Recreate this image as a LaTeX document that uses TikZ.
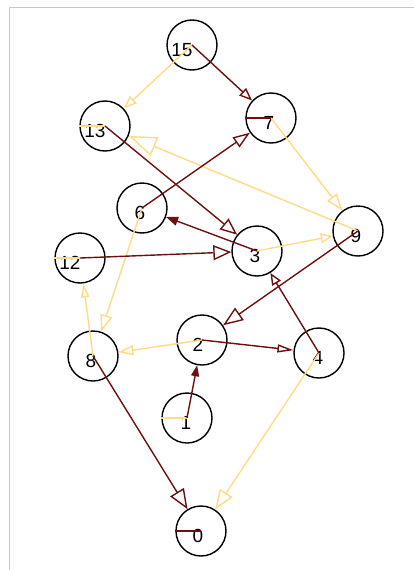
\documentclass[tikz,border=0pt]{standalone}
\usepackage{fontspec}
\setmainfont{Liberation Sans}
\usetikzlibrary{arrows.meta}
\definecolor{darkedge}{RGB}{108,16,16}
\definecolor{lightedge}{RGB}{255,218,135}
\definecolor{framegray}{RGB}{200,200,200}
\tikzset{
  vtx/.style={circle,draw=black,line width=1.4pt,minimum size=50pt,inner sep=0pt},
  lbl/.style={font=\fontsize{19}{19}\selectfont,yshift=-5pt},
  dk/.style={darkedge,line width=1.4pt},
  lt/.style={lightedge,line width=1.4pt},
  hd/.style 2 args={-{Triangle[open,length=#1pt,width=#2pt]}},
  fhd/.style 2 args={-{Triangle[length=#1pt,width=#2pt]}}
}
\begin{document}
\begin{tikzpicture}[x=1pt,y=-1pt]
  \useasboundingbox (0,0) rectangle (414,570);
  % frame
  \draw[framegray,line width=1pt] (9,570) -- (9,7) -- (414,7);
  % Draw nodes
  \node[vtx,label={[lbl,xshift=-10pt]center:15}] (n15) at (192,45)  {};
  \node[vtx,label={[lbl,xshift=-2pt]center:7}]   (n7)  at (271,118) {};
  \node[vtx,label={[lbl,xshift=-10pt]center:13}] (n13) at (105,126) {};
  \node[vtx,label={[lbl,xshift=-2pt]center:6}]   (n6)  at (142,208) {};
  \node[vtx,label={[lbl,xshift=-2pt]center:9}]   (n9)  at (358,231) {};
  \node[vtx,label={[lbl,xshift=-2pt]center:3}]   (n3)  at (257,251) {};
  \node[vtx,label={[lbl,xshift=-10pt]center:12}] (n12) at (80,258)  {};
  \node[vtx,label={[lbl,xshift=-4pt]center:2}]   (n2)  at (202,340) {};
  \node[vtx,label={[lbl,xshift=-1pt]center:4}]   (n4)  at (319,353) {};
  \node[vtx,label={[lbl,xshift=-2pt]center:8}]   (n8)  at (93,356)  {};
  \node[vtx,label={[lbl,xshift=-1pt]center:1}]   (n1)  at (187,418) {};
  \node[vtx,label={[lbl,xshift=-3pt]center:0}]   (n0)  at (201,531) {};
  % light edges
  \draw[lt,hd={13}{10}] (n15.center) -- (n13);
  \draw[lt,hd={28}{20}] (n9.center)  -- (n13);
  \draw[lt,hd={17}{12}] (n7.center)  -- (n9);
  \draw[lt,hd={12}{10}] (n3.center)  -- (n9);
  \draw[lt,hd={17}{12}] (n6.center)  -- (n8);
  \draw[lt,hd={14}{8}]  (n8.center)  -- (n12);
  \draw[lt,hd={15}{10}] (n2.center)  -- (n8);
  \draw[lt,hd={20}{15}] (n4.center)  -- (n0);
  \draw[lt] (n13.west) -- (n13.center);
  \draw[lt] (n12.west) -- (n12.center);
  \draw[lt] (n1.west)  -- (n1.center);
  % dark edges
  \draw[dk,hd={13}{10}]  (n15.center) -- (n7);
  \draw[dk,hd={17}{12}]  (n6.center)  -- (n7);
  \draw[dk,hd={17}{14}]  (n13.center) -- (n3);
  \draw[dk,hd={18}{15}]  (n12.center) -- (n3);
  \draw[dk,fhd={12}{9}]  (n3.center)  -- (n6);
  \draw[dk,hd={20}{15}]  (n9.center)  -- (n2);
  \draw[dk,hd={12}{10}]  (n4.center)  -- (n3);
  \draw[dk,hd={16}{8}]   (n2.center)  -- (n4);
  \draw[dk,fhd={11}{8}]  (n1.center)  -- (n2);
  \draw[dk,hd={20}{16}]  (n8.center)  -- (n0);
  \draw[dk] (n7.west) -- (n7.center);
  \draw[dk] (n0.west) -- (n0.center);
\end{tikzpicture}
\end{document}
